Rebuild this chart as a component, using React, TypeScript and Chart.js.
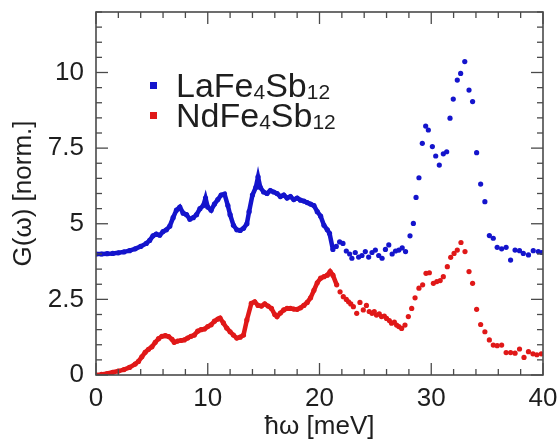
import React, { useEffect, useRef } from 'react';
import { Chart, registerables } from 'chart.js';

Chart.register(...registerables);

const FONT = '"Liberation Sans", Arial, Helvetica, sans-serif';

// ---- axis ticks ----
const xTickValues = [0, 10, 20, 30, 40];
const yTickValues = [0, 2.5, 5, 7.5, 10];
const xMin = 0, xMax = 40, yMin = 0, yMax = 12;
const xMinorStep = 2, yMinorStep = 0.5;

// ---- titles / legend ----
const xTitle = 'ħω [meV]';
const yTitle = 'G(ω) [norm.]';
const laLabel: [string, boolean][] = [['LaFe', false], ['4', true], ['Sb', false], ['12', true]];
const ndLabel: [string, boolean][] = [['NdFe', false], ['4', true], ['Sb', false], ['12', true]];

// ---- LaFe4Sb12 (blue) ----
const laE = [0, 0.5, 1.0, 1.5, 2.0, 2.5, 3.0, 3.5, 4.0, 4.5, 4.8, 5.1, 5.4, 5.7, 6.0, 6.3, 6.6, 6.9, 7.2, 7.5,
  7.8, 8.1, 8.4, 8.7, 9.0, 9.3, 9.6, 9.8, 10.0, 10.3, 10.6, 10.9, 11.2, 11.5, 11.8, 12.0, 12.3, 12.6, 12.9, 13.2,
  13.5, 13.7, 14.0, 14.3, 14.5, 14.7, 15.0, 15.3, 15.6, 15.9, 16.2, 16.5, 16.8, 17.1, 17.4, 17.7, 18.0, 18.3, 18.6, 18.9,
  19.2, 19.5, 19.8, 20.1, 20.4, 20.7, 20.9,
  21.2, 21.5, 21.8, 22.1, 22.4, 22.7, 22.9, 23.2, 23.5, 23.8, 24.1, 24.4, 24.7, 25.0, 25.3, 25.6, 25.9, 26.2, 26.5, 26.8,
  27.1, 27.4, 27.7, 28.1, 28.4, 28.64, 28.9, 29.2, 29.5, 29.74, 30.1, 30.4, 30.72, 31.08, 31.38, 31.68, 31.97, 32.33, 32.63, 33.0,
  33.38, 33.7, 34.06, 34.42, 34.8, 35.2, 35.55, 35.9, 36.3, 36.7, 37.1, 37.5, 37.9, 38.24, 38.7, 39.13, 39.58, 39.9];
const laG = [4.0, 4.0, 4.01, 4.02, 4.04, 4.07, 4.11, 4.17, 4.25, 4.35, 4.45, 4.6, 4.66, 4.62, 4.74, 4.8, 4.92, 5.2, 5.45, 5.55,
  5.35, 5.3, 5.15, 5.2, 5.3, 5.5, 5.6, 5.85, 5.55, 5.45, 5.65, 5.8, 5.95, 5.98, 5.6, 5.3, 4.95, 4.8, 4.78, 4.85,
  5.0, 5.4, 5.95, 6.2, 6.55, 6.2, 6.05, 6.0, 6.1, 6.05, 6.0, 5.9, 5.95, 5.85, 5.9, 5.8, 5.85, 5.78, 5.75, 5.7,
  5.65, 5.6, 5.4, 5.25, 4.95, 4.8, 4.68,
  4.15, 4.25, 4.4, 4.35, 4.1, 4.0, 3.86, 4.05, 3.9, 3.95, 4.08, 3.9, 4.05, 4.13, 3.95, 3.86, 4.15, 4.3, 4.0, 4.1,
  4.13, 4.2, 4.08, 4.6, 5.01, 5.87, 6.52, 7.66, 8.23, 8.1, 7.55, 7.24, 6.94, 7.31, 7.38, 8.49, 9.12, 9.75, 9.97, 10.36,
  9.42, 9.04, 7.35, 6.31, 5.73, 4.61, 4.52, 4.22, 4.17, 4.22, 3.8, 4.13, 4.11, 4.02, 3.97, 4.11, 4.08, 4.05];
const laDenseEnd = 21.0;

// ---- NdFe4Sb12 (red) ----
const ndE = [0, 0.5, 1.0, 1.5, 2.0, 2.5, 3.0, 3.5, 3.8, 4.1, 4.4, 4.7, 5.0, 5.3, 5.6, 5.9, 6.2, 6.5, 6.8, 7.0,
  7.3, 7.6, 7.9, 8.2, 8.5, 8.8, 9.1, 9.4, 9.7, 10.0, 10.3, 10.6, 10.9, 11.1, 11.4, 11.7, 12.0, 12.3, 12.6, 12.9,
  13.2, 13.5, 13.9, 14.2, 14.5, 14.8, 15.1, 15.4, 15.7, 16.0, 16.2, 16.5, 16.8, 17.1, 17.4, 17.7, 18.0, 18.3, 18.6, 18.9,
  19.2, 19.5, 19.8, 20.1, 20.4, 20.7, 20.95, 21.2,
  21.54, 21.84, 22.13, 22.4, 22.6, 22.8, 23.03, 23.33, 23.62, 23.92, 24.2, 24.45, 24.7, 24.9, 25.1, 25.35, 25.55, 25.8, 26.0, 26.25,
  26.45, 26.7, 26.9, 27.1, 27.35, 27.65, 27.95, 28.25, 28.55, 28.9, 29.23, 29.53, 29.83, 30.19, 30.5, 30.8, 31.08, 31.44, 31.74, 32.04,
  32.33, 32.66, 33.02, 33.38, 33.7, 34.06, 34.42, 34.8, 35.2, 35.55, 35.9, 36.3, 36.7, 37.1, 37.5, 37.9, 38.3, 38.7, 39.1, 39.45, 39.85];
const ndG = [0.0, 0.02, 0.05, 0.09, 0.13, 0.18, 0.25, 0.36, 0.45, 0.6, 0.75, 0.85, 0.93, 1.08, 1.2, 1.28, 1.3, 1.27, 1.18, 1.08,
  1.12, 1.14, 1.16, 1.22, 1.28, 1.32, 1.45, 1.5, 1.52, 1.6, 1.66, 1.78, 1.85, 1.88, 1.72, 1.55, 1.43, 1.32, 1.22, 1.25,
  1.32, 1.82, 2.37, 2.42, 2.3, 2.28, 2.35, 2.28, 2.2, 2.0, 1.93, 2.05, 2.15, 2.2, 2.2, 2.18, 2.17, 2.22, 2.3, 2.4,
  2.55, 2.8, 3.05, 3.2, 3.25, 3.3, 3.42, 3.3,
  2.98, 2.75, 2.59, 2.5, 2.42, 2.35, 2.26, 2.04, 2.4, 2.15, 2.3, 2.1, 2.04, 2.1, 1.98, 2.02, 1.93, 1.95, 1.87, 1.8,
  1.71, 1.75, 1.65, 1.6, 1.54, 1.65, 1.93, 2.2, 2.55, 2.87, 2.98, 3.36, 3.38, 3.03, 3.09, 3.12, 3.25, 3.58, 3.89, 4.02,
  4.13, 4.38, 4.08, 3.42, 3.03, 2.17, 1.67, 1.43, 1.16, 0.99, 0.97, 0.99, 0.74, 0.74, 0.72, 0.86, 0.58, 0.77, 0.7, 0.67, 0.7];
const ndDenseEnd = 21.3;

const BLUE = '#1414cc';
const RED = '#e01818';
const AXIS = '#4a4a4a';
const TEXT = '#1e1e1e';

const toPoints = (xs: number[], ys: number[]) => xs.map((x, i) => ({ x, y: ys[i] }));

const framePlugin = {
  id: 'frameTicks',
  afterDraw(chart: any) {
    const { ctx, chartArea: a, scales } = chart;
    const xs = scales.x, ys = scales.y;
    ctx.save();
    ctx.strokeStyle = AXIS;
    ctx.lineWidth = 1.3;
    const line = (x1: number, y1: number, x2: number, y2: number) => {
      ctx.beginPath(); ctx.moveTo(x1, y1); ctx.lineTo(x2, y2); ctx.stroke();
    };
    for (let k = 0; xMin + k * xMinorStep <= xMax + 1e-9; k++) {
      const v = xMin + k * xMinorStep;
      const px = xs.getPixelForValue(v);
      const L = xTickValues.includes(v) ? 12 : 6;
      line(px, a.bottom, px, a.bottom - L);
      line(px, a.top, px, a.top + L);
    }
    for (let k = 0; yMin + k * yMinorStep <= yMax + 1e-9; k++) {
      const v = yMin + k * yMinorStep;
      const py = ys.getPixelForValue(v);
      const L = yTickValues.includes(v) ? 12 : 6;
      line(a.left, py, a.left + L, py);
      line(a.right, py, a.right - L, py);
    }
    ctx.lineWidth = 1.6;
    ctx.strokeRect(a.left, a.top, a.right - a.left, a.bottom - a.top);
    ctx.restore();
  },
};

const legendPlugin = {
  id: 'subLegend',
  afterDraw(chart: any) {
    const { ctx } = chart;
    const rows: { label: [string, boolean][]; color: string; baseline: number }[] = [
      { label: laLabel, color: BLUE, baseline: 97 },
      { label: ndLabel, color: RED, baseline: 127 },
    ];
    ctx.save();
    rows.forEach((r) => {
      ctx.fillStyle = r.color;
      ctx.fillRect(150, r.baseline - 15, 7, 7);
      let x = 176;
      ctx.fillStyle = TEXT;
      ctx.textBaseline = 'alphabetic';
      ctx.textAlign = 'left';
      r.label.forEach(([t, sub]) => {
        ctx.font = sub ? `21px ${FONT}` : `34px ${FONT}`;
        ctx.fillText(t, x, r.baseline + (sub ? 2 : 0));
        x += ctx.measureText(t).width;
      });
    });
    ctx.restore();
  },
};

export default function App() {
  const ref = useRef<HTMLCanvasElement | null>(null);
  useEffect(() => {
    const canvas = ref.current;
    if (!canvas) return;
    const segColor = (color: string, end: number) => (c: any) =>
      c.p0.parsed.x >= end - 1e-9 ? 'rgba(0,0,0,0)' : color;
    const chart = new Chart(canvas, {
      type: 'scatter',
      data: {
        datasets: [
          {
            label: 'LaFe4Sb12',
            data: toPoints(laE, laG),
            showLine: true,
            borderColor: BLUE,
            backgroundColor: BLUE,
            borderWidth: 4.5,
            pointRadius: 2.6,
            pointBorderWidth: 0,
            segment: { borderColor: segColor(BLUE, laDenseEnd) },
          },
          {
            label: 'NdFe4Sb12',
            data: toPoints(ndE, ndG),
            showLine: true,
            borderColor: RED,
            backgroundColor: RED,
            borderWidth: 4.5,
            pointRadius: 2.6,
            pointBorderWidth: 0,
            segment: { borderColor: segColor(RED, ndDenseEnd) },
          },
        ],
      },
      options: {
        responsive: false,
        animation: false,
        devicePixelRatio: 1,
        layout: { padding: { top: 12, right: 16, left: 0, bottom: 0 } },
        plugins: { legend: { display: false }, tooltip: { enabled: false } },
        scales: {
          x: {
            type: 'linear',
            min: xMin,
            max: xMax,
            grid: { display: false, drawTicks: false },
            border: { display: false },
            ticks: {
              font: { family: FONT, size: 26 },
              color: TEXT,
              padding: 8,
              maxRotation: 0,
              callback: (v: any) => String(v),
            },
            afterBuildTicks: (s: any) => { s.ticks = xTickValues.map((v) => ({ value: v })); },
            afterFit: (s: any) => { s.height = 71; s.paddingLeft = 0; s.paddingRight = 0; },
            title: {
              display: true,
              text: xTitle,
              font: { family: FONT, size: 26 },
              color: TEXT,
              padding: { top: 0, bottom: 4 },
            },
          },
          y: {
            type: 'linear',
            min: yMin,
            max: yMax,
            grid: { display: false, drawTicks: false },
            border: { display: false },
            ticks: {
              font: { family: FONT, size: 26 },
              color: TEXT,
              padding: 12,
              callback: (v: any) => String(v),
            },
            afterBuildTicks: (s: any) => { s.ticks = yTickValues.map((v) => ({ value: v })); },
            afterFit: (s: any) => { s.width = 96; s.paddingTop = 0; s.paddingBottom = 0; },
            title: {
              display: true,
              text: yTitle,
              font: { family: FONT, size: 26 },
              color: TEXT,
              padding: { top: 8, bottom: 0 },
            },
          },
        },
      },
      plugins: [framePlugin, legendPlugin],
    } as any);
    return () => chart.destroy();
  }, []);
  return (
    <div style={{ position: 'absolute', left: 0, top: 0, width: 559, height: 446, background: '#fff' }}>
      <canvas ref={ref} width={559} height={446} style={{ display: 'block' }} />
    </div>
  );
}
